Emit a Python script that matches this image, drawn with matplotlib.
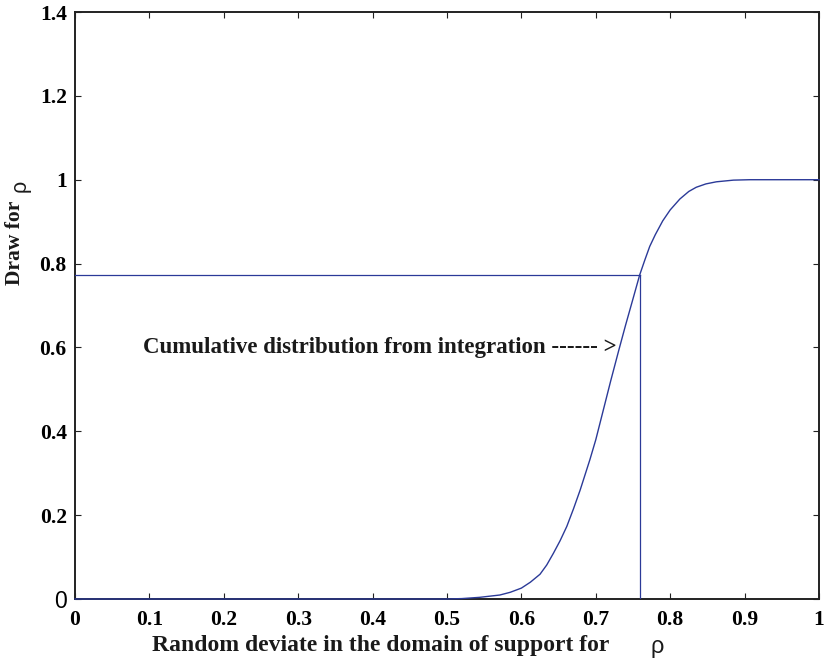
import matplotlib
matplotlib.use("Agg")
import matplotlib.pyplot as plt

# Data
cdf_x = [0.0, 0.5, 0.52, 0.544, 0.571, 0.585, 0.6, 0.612, 0.625, 0.634, 0.643,
         0.652, 0.661, 0.670, 0.679, 0.692, 0.70, 0.710, 0.720, 0.731, 0.740,
         0.750, 0.759, 0.766, 0.7725, 0.780, 0.790, 0.800, 0.813, 0.825, 0.835,
         0.848, 0.862, 0.885, 0.907, 0.95, 1.0]
cdf_y = [0.0, 0.0, 0.001, 0.004, 0.0095, 0.016, 0.026, 0.040, 0.059, 0.081, 0.109,
         0.139, 0.173, 0.215, 0.260, 0.332, 0.38, 0.45, 0.52, 0.594, 0.653,
         0.716, 0.773, 0.809, 0.841, 0.869, 0.902, 0.928, 0.954, 0.972, 0.982,
         0.990, 0.995, 0.999, 1.0, 1.0, 1.0]
deviate_x = 0.759
draw_y = 0.773

x_ticks = [0, 0.1, 0.2, 0.3, 0.4, 0.5, 0.6, 0.7, 0.8, 0.9, 1]
x_tick_labels = ['0', '0.1', '0.2', '0.3', '0.4', '0.5', '0.6', '0.7', '0.8', '0.9', '1']
y_ticks = [0, 0.2, 0.4, 0.6, 0.8, 1.0, 1.2, 1.4]
y_tick_labels = ['0', '0.2', '0.4', '0.6', '0.8', '1', '1.2', '1.4']

annotation = 'Cumulative distribution from integration ------ >'
xlabel_text = 'Random deviate in the domain of support for'
ylabel_text = 'Draw for'

BLUE = '#2b3a98'
INK = '#1a1a1a'
SERIF = 'Liberation Serif'
SANS = 'Liberation Sans'
FS_TICK = 15.5
FS_TEXT = 16.5
FS_LABEL = 17.0
FS_YLABEL = 15.5

fig = plt.figure(figsize=(8.27, 6.62), dpi=100)
ax = fig.add_axes([75/827, 63/662, 744/827, 587/662])

ax.plot(cdf_x, cdf_y, color=BLUE, lw=1.0, clip_on=False, zorder=5)
ax.plot([0, deviate_x], [draw_y, draw_y], color=BLUE, lw=0.9, zorder=4)
ax.plot([deviate_x, deviate_x], [0, draw_y], color=BLUE, lw=0.9, zorder=4)

ax.set_xlim(0, 1)
ax.set_ylim(0, 1.4)
ax.set_xticks(x_ticks)
ax.set_xticklabels(x_tick_labels)
ax.set_yticks(y_ticks)
ax.set_yticklabels(y_tick_labels)

for lab in ax.get_xticklabels():
    lab.set_fontfamily(SERIF)
    lab.set_fontweight('bold')
    lab.set_fontsize(FS_TICK)
for i, lab in enumerate(ax.get_yticklabels()):
    if i == 0:
        lab.set_fontfamily(SANS)
        lab.set_fontweight('normal')
        lab.set_fontsize(FS_TICK + 1)
    else:
        lab.set_fontfamily(SERIF)
        lab.set_fontweight('bold')
        lab.set_fontsize(FS_TICK)

ax.tick_params(direction='in', top=True, right=True, length=4.5, width=0.8,
               color='#222222')
ax.tick_params(axis='x', pad=8)
ax.tick_params(axis='y', pad=6)
for s in ax.spines.values():
    s.set_linewidth(1.4)
    s.set_color('#222222')

ax.text(0.0914, 0.601, annotation, fontfamily=SERIF, fontweight='bold',
        fontsize=FS_TEXT, color=INK, va='center', ha='left')

# x label: bold serif words + sans rho
fig.text(152/827, 1 - 646/662, xlabel_text, fontfamily=SERIF, fontweight='bold',
         fontsize=FS_LABEL, color=INK, va='center', ha='left')
fig.text(657/827, 1 - 647/662, 'ρ', fontfamily=SANS, fontsize=FS_LABEL,
         color=INK, va='center', ha='center')

# y label
fig.text(15/827, 1 - 243/662, ylabel_text, fontfamily=SERIF, fontweight='bold',
         fontsize=FS_YLABEL, color=INK, va='center', ha='center', rotation=90)
fig.text(20/827, 1 - 186/662, 'ρ', fontfamily=SANS, fontsize=FS_YLABEL,
         color=INK, va='center', ha='center', rotation=90)

fig.savefig('out.png', dpi=100)
